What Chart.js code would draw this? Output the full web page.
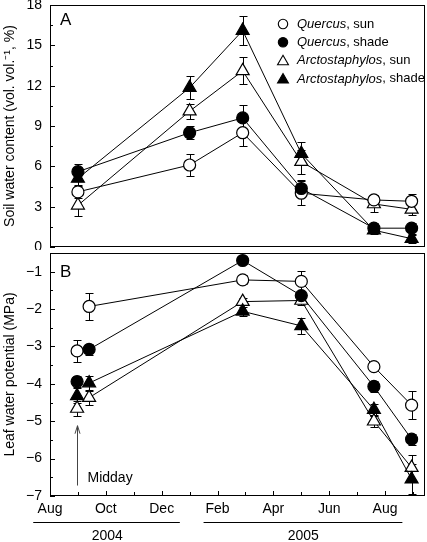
<!DOCTYPE html>
<html>
<head>
<meta charset="utf-8">
<script src="https://cdn.jsdelivr.net/npm/chart.js@4.4.1/dist/chart.umd.min.js"></script>
<style>
  html, body { margin: 0; padding: 0; background: #fff; }
  #wrap { position: relative; width: 427px; height: 542px; }
  .box { position: absolute; left: 0; width: 427px; }
  #boxA { top: 0; height: 250px; }
  #boxB { top: 250px; height: 292px; }
</style>
</head>
<body>
<div id="wrap">
  <div class="box" id="boxA"><canvas id="chartA"></canvas></div>
  <div class="box" id="boxB"><canvas id="chartB"></canvas></div>
</div>
<script>
// x values are months counted from 1 Aug 2004
const months = [0, 2, 4, 6, 8, 10, 12];
const monthLabels = ['Aug', 'Oct', 'Dec', 'Feb', 'Apr', 'Jun', 'Aug'];
const years = ['2004', '2005'];
const soilTicks = [0, 3, 6, 9, 12, 15, 18];
const leafTicks = [-7, -6, -5, -4, -3, -2, -1];

const genus = ['Quercus', 'Quercus', 'Arctostaphylos', 'Arctostaphylos'];
const light = ['sun', 'shade', 'sun', 'shade'];

// A: soil water content (%)
const soilDates = [1.0, 5.0, 6.9, 9.0, 11.6, 12.95];
const soilQSun = [4.1, 6.1, 8.5, 4.0, 3.5, 3.4];
const soilQSunErr = [0.45, 0.8, 1.0, 0.9, 0.4, 0.55];
const soilQShade = [5.6, 8.5, 9.6, 4.35, 1.4, 1.4];
const soilQShadeErr = [0.6, 0.5, 0.95, 0.6, 0.35, 0.4];
const soilASun = [3.1, 10.1, 13.1, 6.35, 3.2, 2.8];
const soilASunErr = [0.8, 0.55, 1.0, 0.9, 0.6, 0.4];
const soilAShade = [5.1, 11.85, 16.1, 6.95, 1.25, 0.62];
const soilAShadeErr = [0.5, 0.85, 1.05, 0.85, 0.3, 0.3];

// B: leaf water potential (MPa)
const leafDates = [1.4, 6.9, 9.0, 11.6, 12.95];
const leafQSun = [-1.93, -1.22, -1.26, -3.54, -4.57];
const leafQSunErr = [0.36, 0.12, 0.27, 0.1, 0.37];
const leafQShade = [-3.08, -0.7, -1.64, -4.07, -5.48];
const leafQShadeErr = [0.15, 0.1, 0.1, 0.15, 0.15];
const leafASun = [-4.37, -1.8, -1.77, -5.0, -6.24];
const leafASunErr = [0.2, 0.1, 0.12, 0.15, 0.35];
const leafAShade = [-3.98, -2.06, -2.45, -4.69, -6.55];
const leafAShadeErr = [0.2, 0.12, 0.22, 0.15, 0.4];

// midday values, first campaign only (same series order)
const middayDate = 0.97;
const middayVals = [-3.12, -3.94, -4.66, -4.32];
const middayErr = [0.3, 0.15, 0.2, 0.2];

const look = [
  { pointStyle: 'circle', fill: '#fff', r: 6, order: 1 },
  { pointStyle: 'circle', fill: '#000', r: 6, order: 0 },
  { pointStyle: 'triangle', fill: '#fff', r: 7.5, order: 1 },
  { pointStyle: 'triangle', fill: '#000', r: 7.5, order: 0 }
];

const fontFam = '"Liberation Sans", Arial, Helvetica, sans-serif';
Chart.defaults.font.family = fontFam;
Chart.defaults.font.size = 14;
Chart.defaults.color = '#000';

function series(i, dates, vals, errs, line) {
  return {
    label: genus[i] + ', ' + light[i],
    data: vals.map((v, k) => ({ x: dates[k], y: v })),
    errors: errs,
    showLine: line,
    order: look[i].order,
    clip: 10,
    borderColor: '#000',
    borderWidth: 1,
    pointStyle: look[i].pointStyle,
    pointRadius: look[i].r,
    pointHoverRadius: look[i].r,
    pointBackgroundColor: look[i].fill,
    pointBorderColor: '#000',
    pointBorderWidth: 1.2,
    tension: 0
  };
}

function xScale(show) {
  return {
    type: 'linear', min: 0, max: 13.43, display: show,
    afterBuildTicks: s => { s.ticks = months.map(v => ({ value: v })); },
    afterFit: s => { if (show) s.height = 20; },
    grid: { display: false, drawTicks: false },
    border: { display: false },
    ticks: { padding: 5, maxRotation: 0, autoSkip: false, callback: (v, i) => monthLabels[i] }
  };
}

function yScale(min, max, ticks, title) {
  return {
    min: min, max: max,
    afterBuildTicks: s => { s.ticks = ticks.map(v => ({ value: v })); },
    afterFit: s => { s.width = 50; s.paddingTop = 0; s.paddingBottom = 0; },
    grid: { display: false, drawTicks: false },
    border: { display: false },
    title: { display: true, text: title, padding: { top: 2, bottom: 0 }, font: { size: 14 } },
    ticks: {
      padding: 8, autoSkip: false,
      callback: v => v < 0 ? '\u2212' + Math.abs(v) : String(v)
    }
  };
}

const errorBars = {
  id: 'errorBars',
  beforeDatasetsDraw(chart) {
    const { ctx } = chart;
    const xs = chart.scales.x, ys = chart.scales.y;
    ctx.save();
    ctx.strokeStyle = '#000';
    ctx.lineWidth = 1;
    chart.data.datasets.forEach(ds => {
      if (!ds.errors) return;
      ds.data.forEach((p, k) => {
        const e = ds.errors[k];
        const px = Math.round(xs.getPixelForValue(p.x)) + 0.5;
        const t = Math.round(ys.getPixelForValue(p.y + e)) + 0.5;
        const b = Math.round(ys.getPixelForValue(p.y - e)) + 0.5;
        ctx.beginPath();
        ctx.moveTo(px, t); ctx.lineTo(px, b);
        ctx.moveTo(px - 4, t); ctx.lineTo(px + 4, t);
        ctx.moveTo(px - 4, b); ctx.lineTo(px + 4, b);
        ctx.stroke();
      });
    });
    ctx.restore();
  }
};

const frame = {
  id: 'frame',
  afterDraw(chart, args, o) {
    const { ctx, chartArea: a } = chart;
    const xs = chart.scales.x, ys = chart.scales.y;
    ctx.save();
    ctx.strokeStyle = '#000';
    ctx.lineWidth = 1;
    ctx.strokeRect(a.left + 0.5, a.top + 0.5, a.width - 1, a.height - 1);
    ctx.beginPath();
    for (let v = ys.min; v <= ys.max + 1e-9; v += o.yMinor) {
      const major = Math.abs(v / o.yMajor - Math.round(v / o.yMajor)) < 1e-6;
      const py = Math.round(ys.getPixelForValue(v)) + 0.5;
      ctx.moveTo(a.left, py); ctx.lineTo(a.left + (major ? 5 : 3), py);
    }
    if (o.xTicks) {
      for (let v = 0; v <= 13; v += 1) {
        const px = Math.round(xs.getPixelForValue(v)) + 0.5;
        ctx.moveTo(px, a.bottom); ctx.lineTo(px, a.bottom - (v % 2 === 0 ? 5 : 4));
      }
    }
    ctx.stroke();

    // panel letter
    ctx.fillStyle = '#000';
    ctx.font = '17px ' + fontFam;
    ctx.textBaseline = 'alphabetic';
    ctx.fillText(o.letter, o.letterX, o.letterY);

    if (o.legend) {
      const lx = a.right - 142;
      chart.data.datasets.slice(0, 4).forEach((ds, i) => {
        const ly = a.top + 19 + i * 18.3;
        ctx.lineWidth = 1.1;
        ctx.fillStyle = ds.pointBackgroundColor;
        ctx.strokeStyle = '#000';
        ctx.beginPath();
        if (ds.pointStyle === 'circle') {
          ctx.arc(lx, ly, 4.7, 0, Math.PI * 2);
        } else {
          const r = 6.3, cy = ly + 1;
          ctx.moveTo(lx, cy - r);
          ctx.lineTo(lx + r * 0.866, cy + r / 2);
          ctx.lineTo(lx - r * 0.866, cy + r / 2);
          ctx.closePath();
        }
        ctx.fill(); ctx.stroke();
        ctx.fillStyle = '#000';
        ctx.textBaseline = 'middle';
        ctx.font = 'italic 13px ' + fontFam;
        const tx = lx + 14;
        ctx.fillText(genus[i], tx, ly);
        const w = ctx.measureText(genus[i]).width;
        ctx.font = '13px ' + fontFam;
        ctx.fillText(', ' + light[i], tx + w, ly);
      });
    }

    if (o.arrow) {
      const ax = Math.round(xs.getPixelForValue(middayDate)) + 0.5;
      const top = ys.getPixelForValue(-5.12), bot = ys.getPixelForValue(-6.72);
      ctx.strokeStyle = '#444';
      ctx.lineWidth = 1;
      ctx.beginPath();
      ctx.moveTo(ax, bot); ctx.lineTo(ax, top);
      ctx.moveTo(ax - 2.5, top + 8); ctx.lineTo(ax, top); ctx.lineTo(ax + 2.5, top + 8);
      ctx.stroke();
      ctx.fillStyle = '#000';
      ctx.font = '14px ' + fontFam;
      ctx.textBaseline = 'alphabetic';
      ctx.fillText('Midday', ax + 10, ys.getPixelForValue(-6.62));
    }

    if (o.years) {
      ctx.strokeStyle = '#000';
      ctx.lineWidth = 1;
      ctx.font = '14px ' + fontFam;
      ctx.textAlign = 'center';
      ctx.textBaseline = 'alphabetic';
      o.years.forEach((span, i) => {
        const x0 = xs.getPixelForValue(span[0]), x1 = xs.getPixelForValue(span[1]);
        ctx.beginPath();
        ctx.moveTo(x0, o.lineY); ctx.lineTo(x1, o.lineY);
        ctx.stroke();
        ctx.fillText(years[i], xs.getPixelForValue(span[2]), o.textY);
      });
    }
    ctx.restore();
  }
};

const common = {
  responsive: true,
  maintainAspectRatio: false,
  animation: false,
  events: []
};

new Chart(document.getElementById('chartA').getContext('2d'), {
  type: 'line',
  data: {
    datasets: [
      series(0, soilDates, soilQSun, soilQSunErr, true),
      series(1, soilDates, soilQShade, soilQShadeErr, true),
      series(2, soilDates, soilASun, soilASunErr, true),
      series(3, soilDates, soilAShade, soilAShadeErr, true)
    ]
  },
  options: Object.assign({}, common, {
    layout: { autoPadding: false, padding: { left: 0, right: 2, top: 5, bottom: 3 } },
    scales: {
      x: xScale(false),
      y: yScale(0, 18, soilTicks, 'Soil water content (vol. vol.\u207B\u00B9, %)')
    },
    plugins: {
      legend: { display: false },
      tooltip: { enabled: false },
      frame: { yMajor: 3, yMinor: 1.5, xTicks: false, letter: 'A', letterX: 60, letterY: 25, legend: true }
    }
  }),
  plugins: [errorBars, frame]
});

new Chart(document.getElementById('chartB').getContext('2d'), {
  type: 'line',
  data: {
    datasets: [
      series(0, leafDates, leafQSun, leafQSunErr, true),
      series(1, leafDates, leafQShade, leafQShadeErr, true),
      series(2, leafDates, leafASun, leafASunErr, true),
      series(3, leafDates, leafAShade, leafAShadeErr, true),
      series(0, [middayDate], [middayVals[0]], [middayErr[0]], false),
      series(1, [middayDate], [middayVals[1]], [middayErr[1]], false),
      series(2, [middayDate], [middayVals[2]], [middayErr[2]], false),
      series(3, [middayDate], [middayVals[3]], [middayErr[3]], false)
    ]
  },
  options: Object.assign({}, common, {
    layout: { autoPadding: false, padding: { left: 0, right: 2, top: 3, bottom: 26 } },
    scales: {
      x: xScale(true),
      y: yScale(-7, -0.5, leafTicks, 'Leaf water potential (MPa)')
    },
    plugins: {
      legend: { display: false },
      tooltip: { enabled: false },
      frame: {
        yMajor: 1, yMinor: 0.5, xTicks: true, letter: 'B', letterX: 60, letterY: 27, arrow: true,
        years: [[-0.6, 4.65, 2.05], [5.5, 12.62, 9.07]], lineY: 272.5, textY: 290
      }
    }
  }),
  plugins: [errorBars, frame]
});
</script>
</body>
</html>
